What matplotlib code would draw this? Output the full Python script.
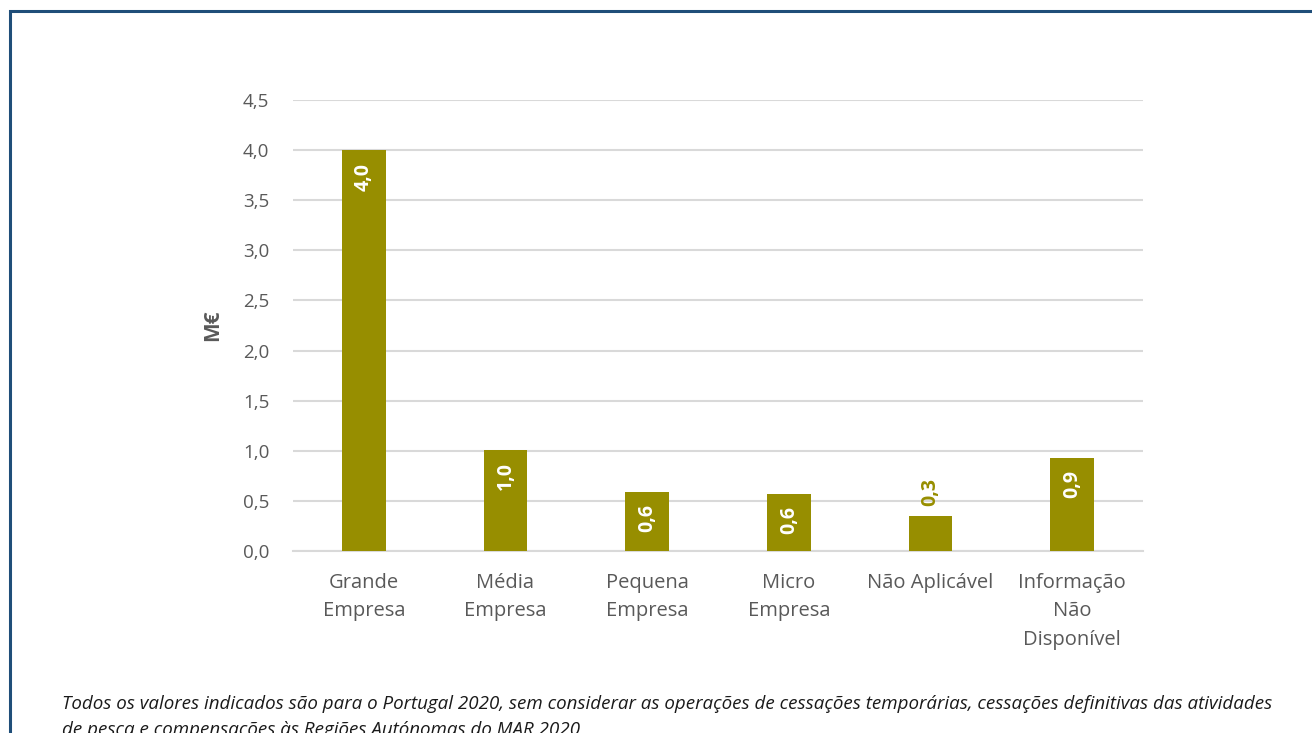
import matplotlib
matplotlib.use("Agg")
import matplotlib.pyplot as plt
from matplotlib.patches import Rectangle

categories = ["Grande\nEmpresa", "Média\nEmpresa", "Pequena\nEmpresa", "Micro\nEmpresa",
              "Não Aplicável", "Informação\nNão\nDisponível"]
values = [4.0, 1.01, 0.59, 0.57, 0.35, 0.93]
labels = ["4,0", "1,0", "0,6", "0,6", "0,3", "0,9"]
yticks = [0.0, 0.5, 1.0, 1.5, 2.0, 2.5, 3.0, 3.5, 4.0, 4.5]
ytick_labels = ["0,0", "0,5", "1,0", "1,5", "2,0", "2,5", "3,0", "3,5", "4,0", "4,5"]
footnote = ("Todos os valores indicados são para o Portugal 2020, sem considerar as operações de cessações temporárias, cessações definitivas das atividades\n"
            "de pesca e compensações às Regiões Autónomas do MAR 2020")

bar_color = "#978E00"
text_gray = "#595959"
grid_gray = "#D9D9D9"

fig = plt.figure(figsize=(13.12, 7.33), dpi=100)
fig.patch.set_facecolor("white")

# border
fig.add_artist(Rectangle((10/1312, -0.1), 1.2, 1 - 11/733 + 0.1, transform=fig.transFigure,
                         fill=False, edgecolor="#1F4E79", linewidth=2.2))

ax = fig.add_axes([293/1312, 1 - 551/733, 850/1312, 451/733])
x = list(range(len(categories)))
bars = ax.bar(x, values, width=0.31, color=bar_color, zorder=3)
ax.set_xlim(-0.5, len(categories) - 0.5)
ax.set_ylim(0, 4.5)
ax.set_yticks(yticks)
ax.set_yticklabels(ytick_labels, fontsize=13.5, color=text_gray, family="Open Sans")
ax.set_xticks(x)
ax.set_xticklabels(categories, fontsize=14.5, color=text_gray, family="Open Sans",
                   linespacing=1.55, va="top")
ax.tick_params(axis="both", length=0)
ax.tick_params(axis="y", pad=17)
ax.tick_params(axis="x", pad=16)
ax.yaxis.grid(True, color=grid_gray, linewidth=1.5, zorder=0)
for s in ["top", "right", "left"]:
    ax.spines[s].set_visible(False)
ax.spines["bottom"].set_color(grid_gray)
ax.spines["bottom"].set_linewidth(1.5)
ax.set_ylabel("M€", fontsize=15, fontweight="bold", color=text_gray, family="Open Sans", labelpad=14)

for xi, v, lab in zip(x, values, labels):
    if v >= 0.5:
        ax.annotate(lab, (xi, v), xytext=(0, -9), textcoords="offset points",
                    ha="center", va="top", rotation=90, color="white",
                    fontsize=14, fontweight="bold", family="Open Sans", zorder=4)
    else:
        ax.annotate(lab, (xi, v), xytext=(0, 7), textcoords="offset points",
                    ha="center", va="bottom", rotation=90, color=bar_color,
                    fontsize=14, fontweight="bold", family="Open Sans", zorder=4)

fig.text(62/1312, 1 - 695/733, footnote, fontsize=13.5, style="italic", color="#1a1a1a",
         family="Open Sans", va="top", ha="left", linespacing=1.6)

fig.savefig("out.png", dpi=100, facecolor="white")
